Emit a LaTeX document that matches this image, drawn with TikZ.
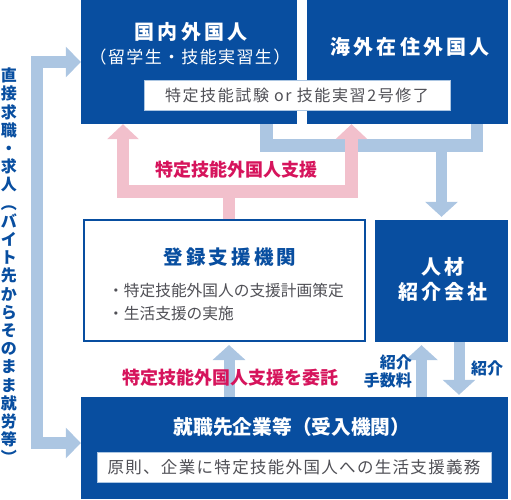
\documentclass[tikz,border=0pt]{standalone}
\usepackage{fontspec}
\setmainfont{Noto Sans CJK JP}
\newfontfamily\widefont{Noto Sans CJK JP}[LetterSpace=16]
\newfontfamily\midfont{Noto Sans CJK JP}[LetterSpace=8]
\newfontfamily\notefont{Noto Sans CJK JP}[LetterSpace=10]
\usetikzlibrary{arrows.meta}
\definecolor{SSnavy}{RGB}{8,78,160}
\definecolor{SSsky}{RGB}{172,198,226}
\definecolor{SSpink}{RGB}{242,192,204}
\definecolor{SSrose}{RGB}{214,20,92}
\definecolor{SSgray}{RGB}{80,80,86}
\tikzset{
  navybox/.style={fill=SSnavy,draw=none,inner sep=0pt},
  framebox/.style={fill=white,draw=SSnavy,line width=2pt,inner sep=0pt},
  notebox/.style={fill=white,draw=SSsky,line width=0.8pt,inner sep=0pt,
                  text=SSgray},
  headw/.style={text=white,inner sep=0pt,align=center},
  bluebar/.style={draw=SSsky,line width=12.5pt,line join=miter},
  bluearrow/.style={draw=SSsky,line width=11pt,-{Triangle[width=32pt,length=15pt]}},
  pinkbar/.style={draw=SSpink,line width=12.5pt,line join=miter},
  rosetext/.style={text=SSrose,font=\fontsize{18}{20}\selectfont\bfseries,inner sep=0pt},
  navytext/.style={text=SSnavy,font=\fontsize{16}{18}\selectfont\bfseries,inner sep=0pt}
}

\begin{document}
\begin{tikzpicture}[x=1pt,y=-1pt]
  \useasboundingbox (0,0) rectangle (511,499);
  % boxes
  \node[navybox,minimum width=216pt,minimum height=124pt] (dom) at (189,62) {};
  \node[navybox,minimum width=201pt,minimum height=124pt] (abr) at (407.5,62) {};
  \node[notebox,minimum width=306pt,minimum height=30pt,
        font=\fontsize{16}{18}\selectfont\notefont] (exam) at (297,95) {特定技能試験 or 技能実習2号修了};
  \node[framebox,minimum width=281pt,minimum height=121pt] (reg) at (224.5,280.5) {};
  \node[navybox,minimum width=133pt,minimum height=122pt] (agency) at (441.5,281) {};
  \node[navybox,minimum width=427pt,minimum height=102pt] (emp) at (294.5,448) {};
  \node[notebox,minimum width=394pt,minimum height=30pt,
        font=\fontsize{16.5}{18}\selectfont\midfont] (duty) at (294,467) {原則、企業に特定技能外国人への生活支援義務};

  % box texts
  \node[headw,font=\fontsize{20}{24}\selectfont\widefont\bfseries] (domtitle) at (191,32) {国内外国人};
  \node[headw,font=\fontsize{17}{20}\selectfont\midfont] (domsub) at (190,57) {（留学生・技能実習生）};
  \node[headw,font=\fontsize{20}{24}\selectfont\widefont\bfseries] (abrtitle) at (410,47) {海外在住外国人};
  \node[text=SSnavy,inner sep=0pt,font=\fontsize{19.5}{24}\selectfont\widefont\bfseries] (regtitle) at (230,257) {登録支援機関};
  \node[text=SSgray,inner sep=0pt,align=left,anchor=west,
        font=\fontsize{15.7}{23}\selectfont] (regitems) at (108,302.5) {・特定技能外国人の支援計画策定\\・生活支援の実施};
  \node[headw,font=\fontsize{20}{25}\selectfont\widefont\bfseries] (agencytitle) at (443,279.5) {人材\\紹介会社};
  \node[headw,font=\fontsize{19.7}{24}\selectfont\bfseries] (emptitle) at (292,427) {就職先企業等（受入機関）};

  % flows
  \coordinate (ul) at (266.5,145.5);
  \coordinate (ur) at (477,145.5);
  \draw[bluebar] (dom.south -| ul) -- (ul) -- (ur) -- (abr.south -| ur);
  \draw[bluearrow,shorten >=3pt] (agency.north |- ul) -- (agency.north);

  \coordinate (lt) at (37,62);
  \coordinate (lb) at (37,443);
  \draw[bluebar,{Triangle[width=30pt,length=15pt]}-{Triangle[width=30pt,length=15pt]}]
    (dom.west) -- (lt) -- (lb) -- (lb -| emp.west);

  \coordinate (pl) at (123,191.5);
  \coordinate (pr) at (351.5,191.5);
  \coordinate (ps) at (229,191.5);
  \draw[pinkbar] (reg.north -| ps) -- (ps);
  \draw[pinkbar,{Triangle[width=31pt,length=15pt]}-{Triangle[width=31pt,length=15pt]}]
    (dom.south -| pl) -- (pl) -- (pr) -- (abr.south -| pr);

  \coordinate (fee) at (421.5,0);
  \coordinate (intro) at (459,0);
  \draw[bluearrow,shorten >=3pt] (emp.north -| ps) -- (reg.south -| ps);
  \draw[bluearrow,shorten >=3pt] (emp.north -| fee) -- (agency.south -| fee);
  \draw[bluearrow,shorten >=2pt] (agency.south -| intro) -- (emp.north -| intro);

  % labels
  \node[rosetext] (supportlbl) at (236,170) {特定技能外国人支援};
  \node[rosetext] (entrustlbl) at (230,378) {特定技能外国人支援を委託};
  \node[navytext,align=right,anchor=east] (feelbl) at (412,371) {紹介\\手数料};
  \node[navytext] (introlbl) at (487,368) {紹介};
  \node[navytext,align=center,font=\fontsize{16}{18.2}\selectfont\bfseries] (directlbl) at (9,266)
    {直\\接\\求\\職\\・\\求\\人\\︵\\バ\\イ\\ト\\先\\か\\ら\\そ\\の\\ま\\ま\\就\\労\\等\\︶};
\end{tikzpicture}
\end{document}
